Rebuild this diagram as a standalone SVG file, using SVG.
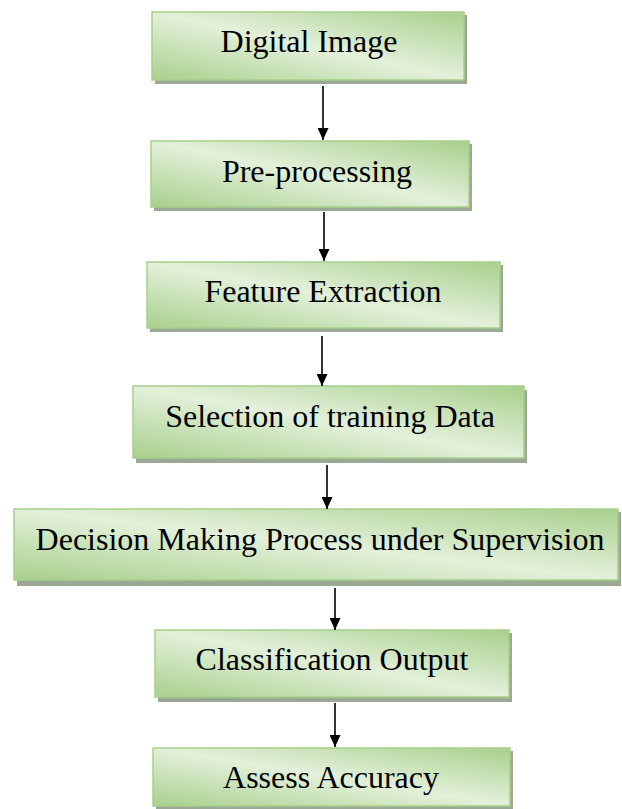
<svg xmlns="http://www.w3.org/2000/svg" width="622" height="809" viewBox="0 0 622 809">
<defs>
<linearGradient id="g" x1="1" y1="0" x2="0" y2="1">
<stop offset="0" stop-color="#a8d08c"/>
<stop offset="0.5" stop-color="#e3f0da"/>
<stop offset="1" stop-color="#a8d08c"/>
</linearGradient>
<marker id="ah" markerWidth="12" markerHeight="11" viewBox="0 0 12 11" refX="12" refY="5.5" orient="auto" markerUnits="userSpaceOnUse">
<path d="M0,0 L12,5.5 L0,11 Z" fill="#000"/>
</marker>
</defs>
<style>
.sh{fill:#9aa895}
.bx{fill:url(#g);stroke:#a6cf8a;stroke-width:1.5}
.t{font-family:"Liberation Serif","Times New Roman",serif;font-size:32px;fill:#000;text-anchor:middle}
.c{stroke:#000;stroke-width:1.6;fill:none;marker-end:url(#ah)}
</style>
<rect width="622" height="809" fill="#fff"/>
<g id="n1"><rect class="sh" x="155" y="15" width="312" height="69"/><rect class="bx" x="152" y="12" width="312" height="68"/><text class="t" x="309" y="52">Digital Image</text></g>
<g id="n2"><rect class="sh" x="154" y="144" width="318" height="67"/><rect class="bx" x="151" y="141" width="318" height="66"/><text class="t" x="317" y="182">Pre-processing</text></g>
<g id="n3"><rect class="sh" x="150" y="265" width="353" height="67"/><rect class="bx" x="147" y="262" width="353" height="66"/><text class="t" x="323" y="302">Feature Extraction</text></g>
<g id="n4"><rect class="sh" x="136" y="390" width="391" height="73"/><rect class="bx" x="133" y="386" width="391" height="72"/><text class="t" x="330" y="427">Selection of training Data</text></g>
<g id="n5"><rect class="sh" x="17" y="512" width="604" height="74"/><rect class="bx" x="14" y="509" width="604" height="71"/><text class="t" x="320" y="550">Decision Making Process under Supervision</text></g>
<g id="n6"><rect class="sh" x="158" y="633" width="354" height="69"/><rect class="bx" x="155" y="630" width="354" height="67"/><text class="t" x="332" y="670">Classification Output</text></g>
<g id="n7"><rect class="sh" x="156" y="751" width="357" height="58"/><rect class="bx" x="153" y="748" width="357" height="58"/><text class="t" x="331" y="788">Assess Accuracy</text></g>
<g id="connectors">
<line class="c" x1="323" y1="86" x2="323" y2="140"/>
<line class="c" x1="324" y1="212" x2="324" y2="261"/>
<line class="c" x1="322" y1="336" x2="322" y2="386"/>
<line class="c" x1="327" y1="465" x2="327" y2="509"/>
<line class="c" x1="335" y1="588" x2="335" y2="630"/>
<line class="c" x1="335" y1="703" x2="335" y2="747"/>
</g>
</svg>
